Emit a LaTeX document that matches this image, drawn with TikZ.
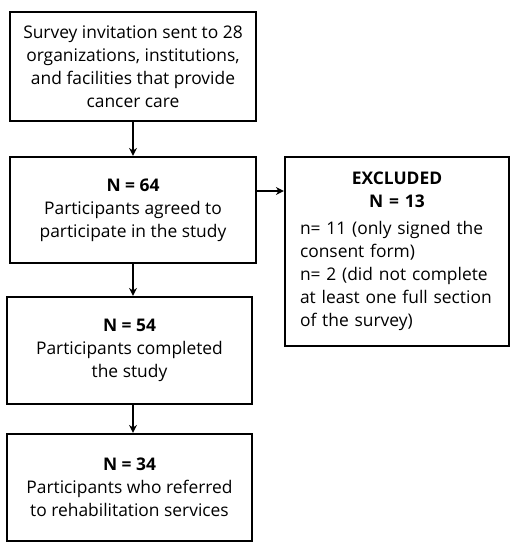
\documentclass[tikz,border=0pt]{standalone}
\usepackage{fontspec}
\setmainfont{Open Sans}
\usetikzlibrary{arrows.meta}
\begin{document}
\begin{tikzpicture}[x=1pt,y=-1pt,
  box/.style={draw=black, line width=2.2pt, rectangle, align=center, inner sep=0pt,
    font=\fontsize{17.4}{23}\selectfont},
  arr/.style={line width=1.8pt, -{Stealth[length=8pt,width=8pt]}}]
\useasboundingbox[fill=white] (0,0) rectangle (519,550);
\node[box, minimum width=246pt, minimum height=109pt] (b1) at (133,66.5)
  {Survey invitation sent to 28\\organizations, institutions,\\and facilities that provide\\cancer care};
\node[box, minimum width=246pt, minimum height=106pt] (b2) at (133,210)
  {\textbf{N = 64}\\Participants agreed to\\participate in the study};
\node[box, minimum width=224pt, minimum height=189pt, text width=194pt, align=left] (b3) at (397,251.5)
  {\makebox[\linewidth]{\textbf{EXCLUDED}}\\\makebox[\linewidth]{\textbf{N = 13}}\\[4pt]n= 11 (only signed the\\consent form)\\n= 2 (did not complete\\at least one full section\\of the survey)};
\node[box, minimum width=245pt, minimum height=107pt] (b4) at (129.5,350.5)
  {\textbf{N = 54}\\Participants completed\\the study};
\node[box, minimum width=245pt, minimum height=107pt] (b5) at (129.5,487.5)
  {\textbf{N = 34}\\Participants who referred\\to rehabilitation services};
\draw[arr] (b1.south) -- (b2.north);
\draw[arr] (b2.south) -- (b2.south |- b4.north);
\draw[arr] (b2.south |- b4.south) -- (b2.south |- b5.north);
\draw[arr] (b2.east |- 0,191) -- (b3.west |- 0,191);
\end{tikzpicture}
\end{document}
